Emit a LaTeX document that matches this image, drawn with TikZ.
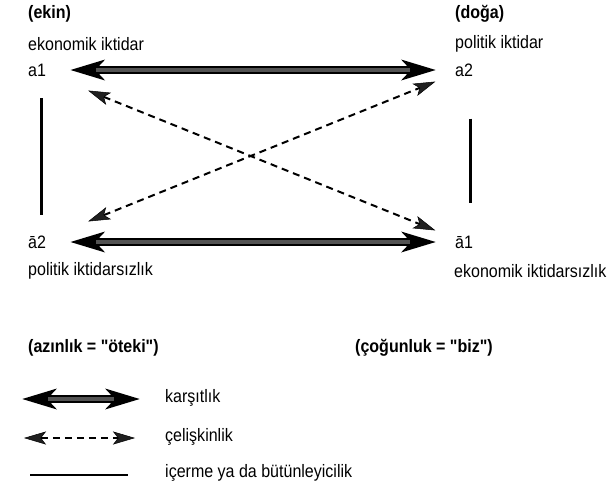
\documentclass[tikz,border=0pt]{standalone}
\usepackage{fontspec}
\setmainfont{Liberation Sans}[FakeStretch=0.89, Ligatures=TeXOff]
\usetikzlibrary{arrows.meta}

\begin{document}
\begin{tikzpicture}[
		x=1pt, y=-1pt
		,every node/.style={inner sep=0pt, anchor=west, font=\fontsize{18}{20}\selectfont}
		,head/.style={font=\fontsize{18}{20}\selectfont\bfseries}
		,opp/.style={line width=8pt, draw=black,
			{Stealth[length=34pt, width=20pt, inset=9pt, fill=gray!25!black]}-{Stealth[length=34pt, width=20pt, inset=9pt, fill=gray!25!black]}}
		,oppcore/.style={line width=4pt, draw=gray!65!black}
		,contra/.style={line width=2pt, dash pattern=on 7pt off 5pt,
			{Stealth[length=22pt, width=13pt, inset=5pt, fill=gray!25!black, line width=0.5pt]}-{Stealth[length=22pt, width=13pt, inset=5pt, fill=gray!25!black, line width=0.5pt]}}
		,incl/.style={line width=2.8pt}
	]
		\useasboundingbox (0,0) rectangle (610,483);

		% kare
		\node[head] (ekin) at (28,14) {(ekin)};
		\node[head] (doga) at (455,14) {(doğa)};
		\node (ekon) at (28,44) {ekonomik iktidar};
		\node (polit) at (455,44) {politik iktidar};
		\node (a1) at (28,70) {a1};
		\node (a2) at (455,70) {a2};
		\node (na2) at (28,242) {ā2};
		\node (na1) at (455,242) {ā1};
		\node (npolit) at (28,271) {politik iktidarsızlık};
		\node (nekon) at (454,271) {ekonomik iktidarsızlık};

		\draw[opp, shorten <=24pt, shorten >=19pt] (a1.east) -- (a2.west);
		\draw[oppcore, shorten <=50pt, shorten >=45pt] (a1.east) -- (a2.west);
		\draw[opp, shorten <=24pt, shorten >=19pt] (na2.east) -- (na1.west);
		\draw[oppcore, shorten <=50pt, shorten >=45pt] (na2.east) -- (na1.west);

		\draw[contra, shorten <=55pt, shorten >=31pt] (a1.center) -- (na1.center);
		\draw[contra, shorten <=55pt, shorten >=31pt] (na2.center) -- (a2.center);

		\draw[incl, shorten <=22pt, shorten >=20pt] ([xshift=4pt]a1.south) -- ([xshift=4pt]na2.north);
		\draw[incl, shorten <=42pt, shorten >=33pt] ([xshift=6pt]a2.south) -- ([xshift=6pt]na1.north);

		% alt
		\node[head] (azin) at (28,348) {(azınlık = "öteki")};
		\node[head] (cogun) at (355,348) {(çoğunluk = "biz")};

		% lejant
		\coordinate (k1) at (22,399);
		\coordinate (k2) at (140,399);
		\coordinate (c1) at (24,438);
		\coordinate (c2) at (135,438);
		\coordinate (i1) at (30,475);
		\coordinate (i2) at (128,475);
		\node (kars) at (165,398) {karşıtlık};
		\node (celis) at (165,437) {çelişkinlik};
		\node (icer) at (165,473) {içerme ya da bütünleyicilik};

		\draw[opp] (k1) -- (k2);
		\draw[oppcore, shorten <=26pt, shorten >=26pt] (k1) -- (k2);
		\draw[contra] (c1) -- (c2);
		\draw[incl] (i1) -- (i2);
	\end{tikzpicture}
\end{document}
